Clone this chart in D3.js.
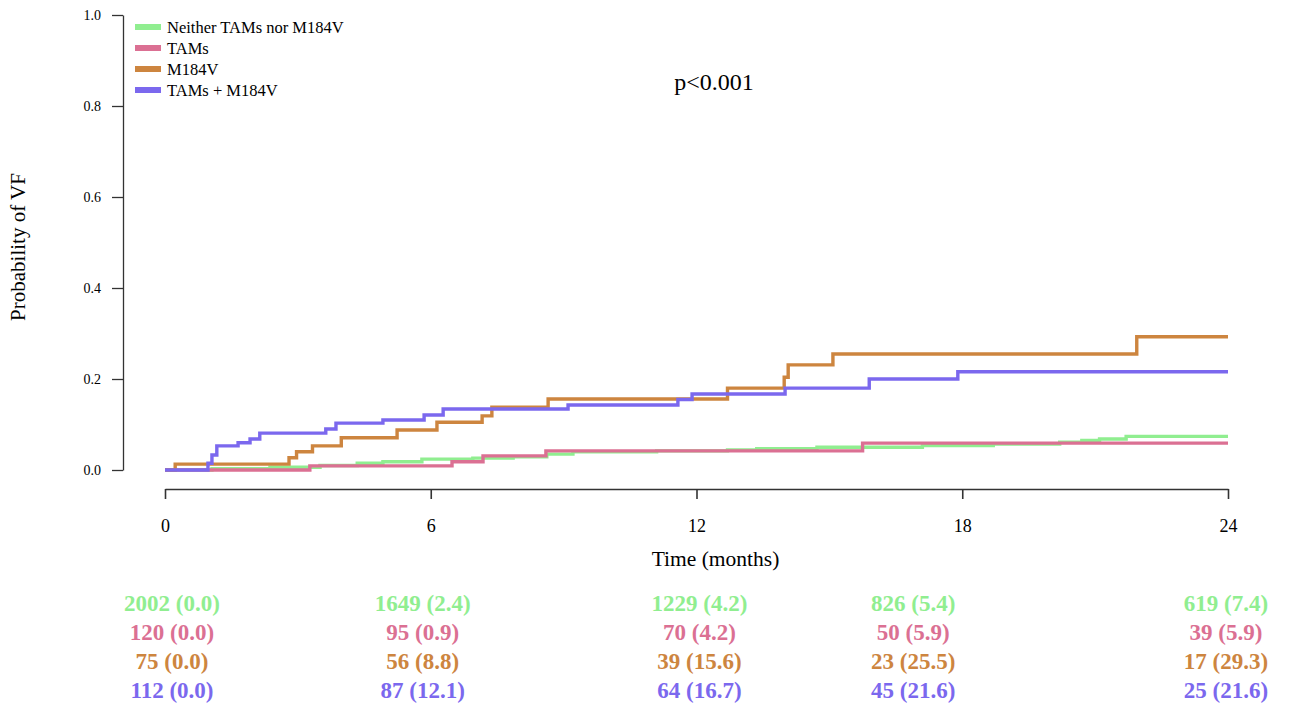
<!DOCTYPE html>
<html>
<head>
<meta charset="utf-8">
<script src="https://cdn.jsdelivr.net/npm/d3@7"></script>
<style>
  body { margin: 0; background: #fff; }
  text { font-family: "Liberation Serif", "Times New Roman", serif; }
</style>
</head>
<body>
<div id="chart"></div>
<script>
// group names and colours
var groups = ["Neither TAMs nor M184V", "TAMs", "M184V", "TAMs + M184V"];
var colors = ["#90EE90", "#DB7093", "#CD853F", "#7B68EE"];

// step curves: [time in months, cumulative probability after the step]
var neither = [[0,0],[1.06,0.003],[2.37,0.006],[3.5,0.01],[4.34,0.015],[4.92,0.018],[5.8,0.024],
  [6.95,0.026],[7.86,0.029],[8.62,0.035],[9.21,0.04],[11.1,0.042],[12.7,0.044],[13.36,0.047],
  [14.72,0.05],[17.1,0.054],[18.7,0.057],[20.2,0.061],[20.7,0.065],[21.1,0.068],[21.7,0.074]];
var tams = [[0,0],[3.27,0.009],[6.48,0.018],[7.18,0.031],[8.6,0.042],[15.75,0.059]];
var m184v = [[0,0],[0.23,0.013],[2.8,0.027],[2.97,0.04],[3.33,0.053],[3.98,0.071],[5.24,0.088],
  [6.14,0.105],[7.16,0.119],[7.38,0.138],[8.65,0.156],[12.7,0.18],[13.98,0.204],[14.07,0.231],
  [15.08,0.255],[21.94,0.293]];
var both = [[0,0],[0.97,0.015],[1.06,0.033],[1.17,0.053],[1.65,0.06],[1.92,0.068],[2.14,0.081],
  [3.63,0.09],[3.86,0.103],[4.92,0.11],[5.85,0.121],[6.28,0.134],[9.1,0.143],[11.58,0.155],
  [11.9,0.167],[14.0,0.18],[15.9,0.2],[17.9,0.216]];
var curves = [neither, tams, m184v, both];

var xTicks = [0, 6, 12, 18, 24];
var yTicks = [0, 0.2, 0.4, 0.6, 0.8, 1.0];

// numbers at risk (cumulative %) under each time tick
var riskNeither = ["2002 (0.0)", "1649 (2.4)", "1229 (4.2)", "826 (5.4)", "619 (7.4)"];
var riskTams    = ["120 (0.0)", "95 (0.9)", "70 (4.2)", "50 (5.9)", "39 (5.9)"];
var riskM184v   = ["75 (0.0)", "56 (8.8)", "39 (15.6)", "23 (25.5)", "17 (29.3)"];
var riskBoth    = ["112 (0.0)", "87 (12.1)", "64 (16.7)", "45 (21.6)", "25 (21.6)"];
var riskRows = [riskNeither, riskTams, riskM184v, riskBoth];

var width = 1289, height = 706;

var svg = d3.select("#chart").append("svg")
  .attr("width", width)
  .attr("height", height);

var x = d3.scaleLinear().domain([0, 24]).range([165, 1228]);
var y = d3.scaleLinear().domain([0, 1]).range([470, 15]);

// y axis
var yAxis = svg.append("g")
  .attr("transform", "translate(123,0)")
  .call(d3.axisLeft(y).tickValues(yTicks).tickFormat(d3.format(".1f")).tickSize(11).tickSizeOuter(0).tickPadding(11));
yAxis.selectAll("text").style("font-size", "14px").attr("fill", "#000");
yAxis.selectAll("line, path").attr("stroke", "#333").attr("stroke-width", 1.3);

// x axis
var xAxis = svg.append("g")
  .attr("transform", "translate(0,489)")
  .call(d3.axisBottom(x).tickValues(xTicks).tickSize(10).tickSizeOuter(0).tickPadding(20));
xAxis.selectAll("text").style("font-size", "18px").attr("fill", "#000");
xAxis.selectAll("line, path").attr("stroke", "#333").attr("stroke-width", 1.6);

// axis titles
svg.append("text")
  .attr("x", x(12) + 19)
  .attr("y", 566)
  .attr("text-anchor", "middle")
  .style("font-size", "21.5px")
  .text("Time (months)");

svg.append("text")
  .attr("transform", "translate(25,247) rotate(-90)")
  .attr("text-anchor", "middle")
  .style("font-size", "21px")
  .text("Probability of VF");

svg.append("text")
  .attr("x", 714)
  .attr("y", 90)
  .attr("text-anchor", "middle")
  .style("font-size", "24px")
  .text("p<0.001");

// curves
var line = d3.line()
  .x(function(d) { return x(d[0]); })
  .y(function(d) { return y(d[1]); })
  .curve(d3.curveStepAfter);

curves.forEach(function(c, i) {
  var pts = c.concat([[24, c[c.length - 1][1]]]);
  svg.append("path")
    .datum(pts)
    .attr("d", line)
    .attr("fill", "none")
    .attr("stroke", colors[i])
    .attr("stroke-width", 3.4);
});

// legend
var legend = svg.selectAll(".legend")
  .data(groups).enter()
  .append("g")
  .attr("transform", function(d, i) { return "translate(135," + (27 + i * 21) + ")"; });
legend.append("line")
  .attr("x1", 0).attr("x2", 26)
  .attr("stroke", function(d, i) { return colors[i]; })
  .attr("stroke-width", 6);
legend.append("text")
  .attr("x", 32)
  .attr("dy", "0.35em")
  .style("font-size", "16.5px")
  .text(function(d) { return d; });

// risk table, centred a little off each tick like the original
var colShift = [7, -8, 3, -49, -2];
riskRows.forEach(function(row, r) {
  svg.selectAll(".risk" + r)
    .data(row).enter()
    .append("text")
    .attr("x", function(d, i) { return x(xTicks[i]) + colShift[i]; })
    .attr("y", 603 + r * 29)
    .attr("dy", "0.35em")
    .attr("text-anchor", "middle")
    .attr("fill", colors[r])
    .style("font-size", "23px")
    .style("font-weight", "bold")
    .text(function(d) { return d; });
});
</script>
</body>
</html>
